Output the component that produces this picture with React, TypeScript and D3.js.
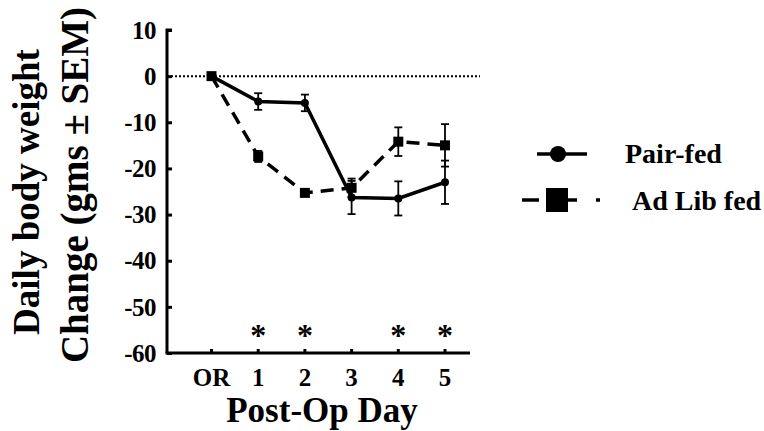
import React, { useEffect, useRef } from "react";
import * as d3 from "d3";

const days = ["OR", "1", "2", "3", "4", "5"];
const pairFed = [0, -5.5, -5.8, -26.3, -26.5, -23];
const pairFedErr = [0, 1.8, 1.8, 3.6, 3.7, 4.7];
const adLib = [0, -17.4, -25.3, -24.2, -14.2, -15];
const adLibErr = [0, 1.2, 0.6, 2, 3.1, 4.6];
const starDays = ["1", "2", "4", "5"];
const yTicks = [10, 0, -10, -20, -30, -40, -50, -60];

const FONT = "'Liberation Serif', 'Times New Roman', serif";

const App = () => {
  const svgRef = useRef<SVGSVGElement>(null);

  useEffect(() => {
    const svg = d3.select(svgRef.current);
    svg.selectAll("*").remove();

    const x = d3.scalePoint().domain(days).range([211.5, 445]);
    const y = d3.scaleLinear().domain([-60, 10]).range([353, 30]);

    // zero reference line
    svg
      .append("line")
      .attr("x1", 167)
      .attr("x2", 480)
      .attr("y1", y(0))
      .attr("y2", y(0))
      .attr("stroke", "#000")
      .attr("stroke-width", 2)
      .attr("stroke-dasharray", "2,2");

    // y axis
    const yAxis = d3
      .axisRight(y)
      .tickValues(yTicks)
      .tickSize(5)
      .tickFormat(() => "");
    const gy = svg.append("g").attr("transform", "translate(167,0)").call(yAxis);
    gy.select(".domain").attr("stroke-width", 3).attr("d", `M5,${y(10)}H0V${y(-60)}`);
    gy.selectAll(".tick line").attr("stroke-width", 3);

    svg
      .append("g")
      .selectAll("text")
      .data(yTicks)
      .join("text")
      .attr("x", 156)
      .attr("y", (d) => y(d))
      .attr("dy", "0.35em")
      .attr("text-anchor", "end")
      .style("font-family", FONT)
      .style("font-weight", "bold")
      .style("font-size", "25px")
      .style("letter-spacing", "-0.5px")
      .text((d) => d);

    // x axis
    svg
      .append("line")
      .attr("x1", 165.5)
      .attr("x2", 470)
      .attr("y1", 353)
      .attr("y2", 353)
      .attr("stroke", "#000")
      .attr("stroke-width", 3);
    svg
      .append("g")
      .selectAll("line")
      .data(days)
      .join("line")
      .attr("x1", (d) => x(d)!)
      .attr("x2", (d) => x(d)!)
      .attr("y1", 353)
      .attr("y2", 349)
      .attr("stroke", "#000")
      .attr("stroke-width", 3);

    svg
      .append("g")
      .selectAll("text")
      .data(days)
      .join("text")
      .attr("x", (d) => x(d)!)
      .attr("y", 386)
      .attr("text-anchor", "middle")
      .style("font-family", FONT)
      .style("font-weight", "bold")
      .style("font-size", "25px")
      .text((d) => d);

    // asterisks
    svg
      .append("g")
      .selectAll("text")
      .data(starDays)
      .join("text")
      .attr("x", (d) => x(d)!)
      .attr("y", 346)
      .attr("text-anchor", "middle")
      .style("font-family", FONT)
      .style("font-weight", "bold")
      .style("font-size", "32px")
      .text("*");

    const line = d3
      .line<number>()
      .x((d, i) => x(days[i])!)
      .y((d) => y(d));

    const drawErr = (vals: number[], errs: number[]) => {
      const g = svg.append("g").attr("stroke", "#000").attr("stroke-width", 1.8);
      vals.forEach((v, i) => {
        if (!errs[i]) return;
        const cx = x(days[i])!;
        g.append("line").attr("x1", cx).attr("x2", cx).attr("y1", y(v + errs[i])).attr("y2", y(v - errs[i]));
        g.append("line").attr("x1", cx - 4).attr("x2", cx + 4).attr("y1", y(v + errs[i])).attr("y2", y(v + errs[i]));
        g.append("line").attr("x1", cx - 4).attr("x2", cx + 4).attr("y1", y(v - errs[i])).attr("y2", y(v - errs[i]));
      });
    };

    // Ad lib fed (dashed, squares)
    drawErr(adLib, adLibErr);
    svg
      .append("path")
      .datum(adLib)
      .attr("d", line)
      .attr("fill", "none")
      .attr("stroke", "#000")
      .attr("stroke-width", 3.5)
      .attr("stroke-dasharray", "13,8");
    svg
      .append("g")
      .selectAll("rect")
      .data(adLib)
      .join("rect")
      .attr("x", (d, i) => x(days[i])! - 5)
      .attr("y", (d) => y(d) - 5)
      .attr("width", 10)
      .attr("height", 10)
      .attr("fill", "#000");

    // Pair-fed (solid, circles)
    drawErr(pairFed, pairFedErr);
    svg
      .append("path")
      .datum(pairFed)
      .attr("d", line)
      .attr("fill", "none")
      .attr("stroke", "#000")
      .attr("stroke-width", 3.5);
    svg
      .append("g")
      .selectAll("circle")
      .data(pairFed)
      .join("circle")
      .attr("cx", (d, i) => x(days[i])!)
      .attr("cy", (d) => y(d))
      .attr("r", 4)
      .attr("fill", "#000");

    // legend
    const lg = svg.append("g");
    lg.append("line").attr("x1", 537).attr("x2", 587).attr("y1", 154).attr("y2", 154).attr("stroke", "#000").attr("stroke-width", 3.5);
    lg.append("circle").attr("cx", 558).attr("cy", 154).attr("r", 8).attr("fill", "#000");
    lg.append("text").attr("x", 625).attr("y", 163).text("Pair-fed");
    lg.append("line").attr("x1", 522).attr("x2", 539).attr("y1", 200).attr("y2", 200).attr("stroke", "#000").attr("stroke-width", 3.5);
    lg.append("line").attr("x1", 546).attr("x2", 577).attr("y1", 200).attr("y2", 200).attr("stroke", "#000").attr("stroke-width", 3.5);
    lg.append("line").attr("x1", 596).attr("x2", 600).attr("y1", 200).attr("y2", 200).attr("stroke", "#000").attr("stroke-width", 3.5);
    lg.append("rect").attr("x", 546).attr("y", 188).attr("width", 22).attr("height", 24).attr("fill", "#000");
    lg.append("text").attr("x", 632).attr("y", 210).text("Ad Lib fed");
    lg.selectAll("text")
      .style("font-family", FONT)
      .style("font-weight", "bold")
      .style("font-size", "28px");

    // axis titles
    svg
      .append("text")
      .attr("x", 322)
      .attr("y", 422)
      .attr("text-anchor", "middle")
      .style("font-family", FONT)
      .style("font-weight", "bold")
      .style("font-size", "35px")
      .text("Post-Op Day");

    svg
      .append("text")
      .attr("transform", "translate(39,192) rotate(-90)")
      .attr("text-anchor", "middle")
      .style("font-family", FONT)
      .style("font-weight", "bold")
      .style("font-size", "37px")
      .text("Daily body weight");
    svg
      .append("text")
      .attr("transform", "translate(88,185) rotate(-90)")
      .attr("text-anchor", "middle")
      .style("font-family", FONT)
      .style("font-weight", "bold")
      .style("font-size", "39px")
      .text("Change (gms \u00b1 SEM)");
  }, []);

  return (
    <svg
      ref={svgRef}
      width={764}
      height={431}
      style={{ position: "absolute", left: 0, top: 0, background: "#fff" }}
    />
  );
};

export default App;
